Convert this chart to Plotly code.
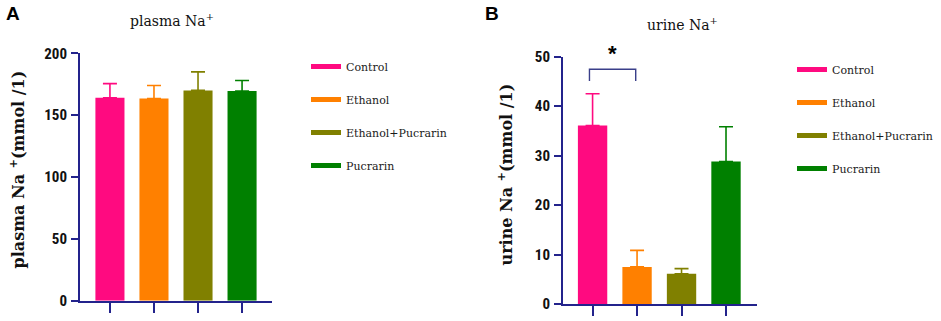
import plotly.graph_objects as go

W, H = 941, 321

groups = ["Control", "Ethanol", "Ethanol+Pucrarin", "Pucrarin"]
colors = ["#FF0A80", "#FF8000", "#808000", "#008000"]
positions = [0, 1, 2, 3]

plasma_mean = [164.0, 163.5, 170.0, 169.5]
plasma_err = [11.5, 10.5, 15.0, 8.5]

urine_mean = [36.1, 7.5, 6.1, 28.8]
urine_err = [6.4, 3.35, 1.05, 7.05]

plasma_ticks = [0, 50, 100, 150, 200]
urine_ticks = [0, 10, 20, 30, 40, 50]

sig_x = [-0.07, -0.07, 0.97, 0.97]
sig_y = [45.1, 47.45, 47.45, 45.1]
sig_label = "*"

AXC = "#23238C"

def px(x):
    return x / W

def py(y):
    return (H - y) / H

fig = go.Figure()

for i, g in enumerate(groups):
    fig.add_trace(go.Bar(
        x=[positions[i]], y=[plasma_mean[i]], width=0.66,
        marker=dict(color=colors[i], line=dict(width=0)),
        error_y=dict(type="data", array=[plasma_err[i]], arrayminus=[0], symmetric=False,
                     color=colors[i], thickness=1.6, width=7),
        xaxis="x", yaxis="y", showlegend=False, name=g))
    fig.add_trace(go.Bar(
        x=[positions[i]], y=[urine_mean[i]], width=0.66,
        marker=dict(color=colors[i], line=dict(width=0)),
        error_y=dict(type="data", array=[urine_err[i]], arrayminus=[0], symmetric=False,
                     color=colors[i], thickness=1.6, width=7),
        xaxis="x2", yaxis="y2", showlegend=False, name=g))

# legend entries
for i, g in enumerate(groups):
    fig.add_trace(go.Scatter(x=[None], y=[None], mode="lines", name=g,
                             line=dict(color=colors[i], width=5),
                             legend="legend", legendgroup="a%d" % i,
                             xaxis="x", yaxis="y"))
    fig.add_trace(go.Scatter(x=[None], y=[None], mode="lines", name=g,
                             line=dict(color=colors[i], width=5),
                             legend="legend2", legendgroup="b%d" % i,
                             xaxis="x2", yaxis="y2"))

# significance bracket
fig.add_trace(go.Scatter(x=sig_x, y=sig_y, mode="lines",
                         line=dict(color="#3A3F8A", width=1.4),
                         xaxis="x2", yaxis="y2", showlegend=False, hoverinfo="skip"))

tickfont = dict(family="Liberation Sans Narrow, Arial Narrow, Roboto Condensed, Liberation Sans",
                size=15, color="#111111", weight="bold")

xcommon = dict(type="linear", tickvals=positions, showticklabels=False,
               showline=True, linecolor=AXC, linewidth=2, ticks="outside",
               ticklen=10, tickwidth=2, tickcolor=AXC, showgrid=False, zeroline=False,
               fixedrange=True)
ycommon = dict(showline=True, linecolor=AXC, linewidth=2, ticks="outside",
               ticklen=7, tickwidth=2, tickcolor=AXC, showgrid=False, zeroline=False,
               tickfont=tickfont, ticklabelstandoff=1)

legfont = dict(family="DejaVu Serif", size=11, color="#1a1a1a")

fig.update_layout(
    width=W, height=H,
    margin=dict(l=0, r=0, t=0, b=0, pad=0, autoexpand=False),
    paper_bgcolor="white", plot_bgcolor="white",
    showlegend=True,
    barmode="overlay",
    xaxis=dict(domain=[px(80), px(272)], range=[-0.68, 3.68], anchor="y", **xcommon),
    yaxis=dict(domain=[py(300.7), py(53.3)], range=[0, 200], tickvals=plasma_ticks,
               anchor="x", **ycommon),
    xaxis2=dict(domain=[px(563), px(756.7)], range=[-0.665, 3.69], anchor="y2", **xcommon),
    yaxis2=dict(domain=[py(304), py(56.7)], range=[0, 50], tickvals=urine_ticks,
                anchor="x2", **ycommon),
    legend=dict(x=px(306), y=py(52), xanchor="left", yanchor="top",
                font=legfont, tracegroupgap=14, bgcolor="rgba(0,0,0,0)"),
    legend2=dict(x=px(792), y=py(55), xanchor="left", yanchor="top",
                 font=legfont, tracegroupgap=14, bgcolor="rgba(0,0,0,0)"),
)

serif = "DejaVu Serif"
ann = [
    dict(text="<b>A</b>", x=px(12.5), y=py(13), font=dict(family="Liberation Sans", size=19, color="black")),
    dict(text="<b>B</b>", x=px(492), y=py(13), font=dict(family="Liberation Sans", size=19, color="black")),
    dict(text="plasma Na<sup>+</sup>", x=px(172), y=py(20), font=dict(family=serif, size=14, color="#111111")),
    dict(text="urine Na<sup>+</sup>", x=px(682), y=py(24), font=dict(family=serif, size=14, color="#111111")),
    dict(text="<b>plasma Na <sup>+</sup>(mmol /1)</b>", x=px(17.5), y=py(170), textangle=-90,
         font=dict(family=serif, size=16, color="#111111")),
    dict(text="<b>urine Na <sup>+</sup>(mmol /1)</b>", x=px(505.5), y=py(175), textangle=-90,
         font=dict(family=serif, size=16, color="#111111")),
]
for a in ann:
    a.update(xref="paper", yref="paper", showarrow=False, xanchor="center", yanchor="middle")
    fig.add_annotation(**a)

# significance star (above the axis range, so positioned in paper units vertically)
fig.add_annotation(text="<b>%s</b>" % sig_label, x=0.45, y=py(53), xref="x2", yref="paper",
                   showarrow=False, xanchor="center", yanchor="middle",
                   font=dict(family="Liberation Sans", size=22, color="black"))

fig.write_html("out.html", config={"displayModeBar": False, "staticPlot": False},
               post_script="document.body.style.margin='0px';")
